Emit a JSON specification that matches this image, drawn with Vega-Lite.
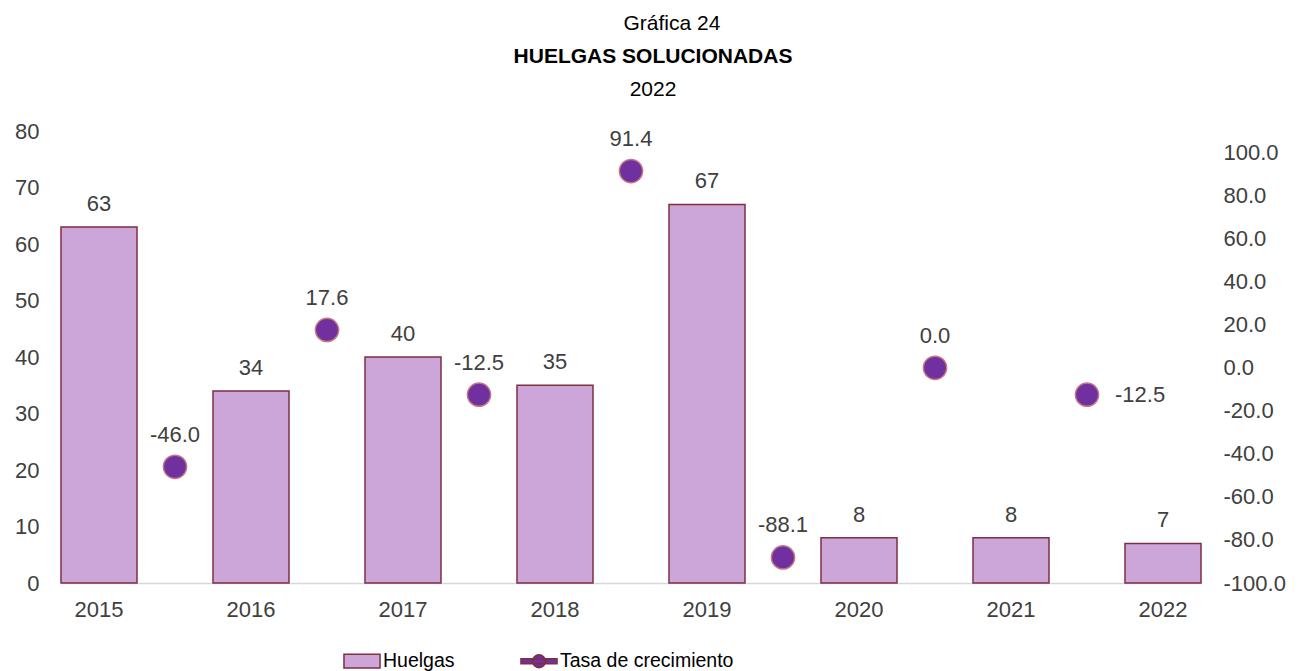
{
  "$schema": "https://vega.github.io/schema/vega-lite/v6.json",
  "background": "white",
  "padding": {"left": 14, "top": 13, "right": 5, "bottom": 0},
  "title": {"text": "Gráfica 24", "font": "Liberation Sans", "fontSize": 21, "fontWeight": "normal", "color": "black", "anchor": "middle", "offset": 12, "dx": 22},
  "data": {"values": [
    {"year": "2015", "huelgas": 63, "tasa": null},
    {"year": "2016", "huelgas": 34, "tasa": -46.0},
    {"year": "2017", "huelgas": 40, "tasa": 17.6},
    {"year": "2018", "huelgas": 35, "tasa": -12.5},
    {"year": "2019", "huelgas": 67, "tasa": 91.4},
    {"year": "2020", "huelgas": 8, "tasa": -88.1},
    {"year": "2021", "huelgas": 8, "tasa": 0.0},
    {"year": "2022", "huelgas": 7, "tasa": -12.5}
  ]},
  "vconcat": [
    {
      "width": 1140,
      "height": 452,
      "title": {"text": "HUELGAS SOLUCIONADAS", "subtitle": "2022", "font": "Liberation Sans", "fontSize": 21, "fontWeight": "bold", "color": "black", "subtitleFont": "Liberation Sans", "subtitleFontSize": 21, "subtitleColor": "black", "subtitlePadding": 12, "anchor": "middle", "offset": 20, "dx": 22},
      "layer": [
        {
          "encoding": {
            "x": {"field": "year", "type": "ordinal", "scale": {"paddingInner": 0.5, "paddingOuter": 0},
                  "axis": {"labelAngle": 0, "domain": true, "domainColor": "#D9D9D9", "domainWidth": 1.5, "labelPadding": 16}},
            "y": {"field": "huelgas", "type": "quantitative", "scale": {"domain": [0, 80]},
                  "axis": {"orient": "left", "values": [0, 10, 20, 30, 40, 50, 60, 70, 80], "labelPadding": 22}}
          },
          "layer": [
            {
              "mark": {"type": "bar", "stroke": "#7F2F3F", "strokeWidth": 1.5},
              "encoding": {
                "fill": {"datum": "Huelgas", "type": "nominal",
                  "scale": {"domain": ["Huelgas", "Tasa de crecimiento"], "range": ["#CDA6D9", "#7030A0"]},
                  "legend": {
                    "orient": "none", "legendX": 282, "legendY": 511, "direction": "horizontal", "title": null,
                    "symbolSize": 1300, "columnPadding": 62, "labelFontSize": 19.5, "labelFont": "Liberation Sans", "labelColor": "black", "labelOffset": 2, "labelLimit": 400,
                    "symbolType": {"expr": "datum.value == 'Huelgas' ? 'M-1,-0.38L1,-0.38L1,0.38L-1,0.38Z' : 'M-1,-0.14L1,-0.14L1,0.14L-1,0.14Z M0.36,0A0.36,0.36 0 1,1 -0.36,0A0.36,0.36 0 1,1 0.36,0Z'"},
                    "symbolStrokeWidth": 1.5,
                    "encode": {"symbols": {"update": {
                      "stroke": {"signal": "datum.value == 'Huelgas' ? '#7F2F3F' : '#7030A0'"}
                    }}}
                  }}
              }
            },
            {
              "mark": {"type": "text", "baseline": "bottom", "dy": -11, "font": "Liberation Sans", "fontSize": 22, "color": "#404040"},
              "encoding": {"text": {"field": "huelgas", "type": "quantitative"}}
            }
          ]
        },
        {
          "transform": [
            {"filter": "datum.tasa != null"},
            {"calculate": "replace(format(datum.tasa, '.1f'), '\u2212', '-')", "as": "lbl"}
          ],
          "encoding": {
            "x": {"field": "year", "type": "ordinal", "bandPosition": -0.5},
            "y": {"field": "tasa", "type": "quantitative", "scale": {"domain": [-100, 110]},
                  "axis": {"orient": "right", "values": [-100, -80, -60, -40, -20, 0, 20, 40, 60, 80, 100], "labelExpr": "replace(format(datum.value, '.1f'), '\u2212', '-')", "labelPadding": 22}}
          },
          "layer": [
            {
              "mark": {"type": "point", "filled": true, "size": 540, "stroke": "#C8797F", "strokeWidth": 1.5, "opacity": 1},
              "encoding": {"fill": {"datum": "Tasa de crecimiento", "type": "nominal"}}
            },
            {
              "transform": [{"filter": "datum.year != '2022'"}],
              "mark": {"type": "text", "baseline": "bottom", "dy": -20, "font": "Liberation Sans", "fontSize": 22, "color": "#404040"},
              "encoding": {"text": {"field": "lbl", "type": "nominal"}}
            },
            {
              "transform": [{"filter": "datum.year == '2022'"}],
              "mark": {"type": "text", "baseline": "middle", "align": "left", "dx": 28, "font": "Liberation Sans", "fontSize": 22, "color": "#404040"},
              "encoding": {"text": {"field": "lbl", "type": "nominal"}}
            }
          ]
        }
      ],
      "resolve": {"scale": {"y": "independent"}}
    }
  ],
  "config": {
    "view": {"stroke": null},
    "axis": {"grid": false, "ticks": false, "domain": false, "title": null, "labelFont": "Liberation Sans", "labelFontSize": 22, "labelColor": "#404040"}
  }
}
